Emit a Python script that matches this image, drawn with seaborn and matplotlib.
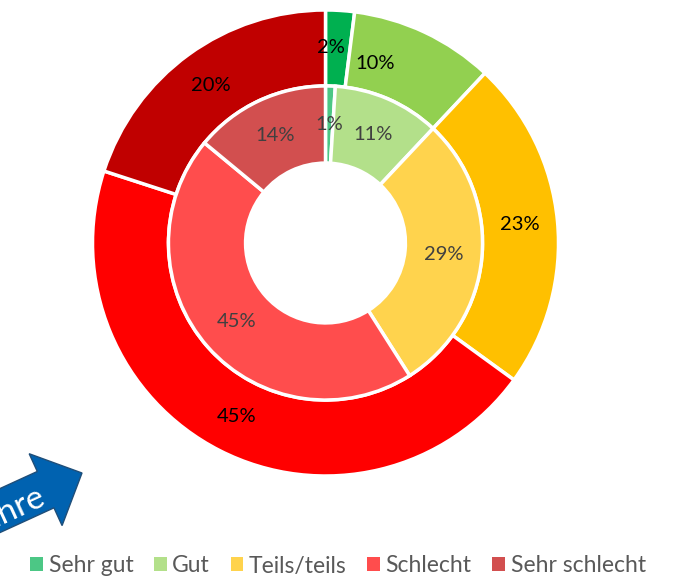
import matplotlib
matplotlib.use("Agg")
import matplotlib.pyplot as plt
import seaborn as sns
from matplotlib.patches import Patch, FancyArrow
import numpy as np

# Daten
kategorien = ["Sehr gut", "Gut", "Teils/teils", "Schlecht", "Sehr schlecht"]
aussen = [2, 10, 23, 45, 20]
innen = [1, 11, 29, 45, 14]

farben_aussen = ["#00B050", "#92D050", "#FFC000", "#FF0000", "#C00000"]
farben_innen = ["#4CC785", "#B3E08A", "#FFD34D", "#FF4D4D", "#D24F4F"]

sns.set_style("white")
plt.rcParams["font.family"] = ["Lato", "DejaVu Sans"]

fig = plt.figure(figsize=(6.74, 5.79), dpi=100)
ax = fig.add_axes([92.5 / 674, 103 / 579, 466 / 674, 466 / 579])

w1, t1, a1 = ax.pie(aussen, radius=1.0, colors=farben_aussen, startangle=90, counterclock=False,
                    wedgeprops=dict(width=0.326, edgecolor="white", linewidth=2.5),
                    autopct=lambda p: f"{p:.0f}%", pctdistance=0.837,
                    textprops=dict(color="black", fontsize=14.5))
w2, t2, a2 = ax.pie(innen, radius=0.674, colors=farben_innen, startangle=90, counterclock=False,
                    wedgeprops=dict(width=0.331, edgecolor="white", linewidth=2.5),
                    autopct=lambda p: f"{p:.0f}%", pctdistance=0.755,
                    textprops=dict(color="#404040", fontsize=14.5))
# Beschriftungen 2% und 10% etwas verschoben (wie im Original)
phi = np.deg2rad(90 - 15.5)
a1[1].set_position((0.80 * np.cos(phi), 0.80 * np.sin(phi)))
phi = np.deg2rad(90 - 1.5)
a1[0].set_position((0.84 * np.cos(phi), 0.84 * np.sin(phi)))
ax.set_xlim(-1, 1)
ax.set_ylim(-1, 1)
ax.set_aspect("equal")

# Legende
griffe = [Patch(facecolor=c, edgecolor="none") for c in farben_innen]
fig.legend(griffe, kategorien, loc="center", bbox_to_anchor=(338 / 674, 1 - 566 / 579), ncol=5,
           frameon=False, fontsize=16.5, handlelength=0.55, handleheight=0.55, handletextpad=0.25,
           columnspacing=0.9, labelcolor="#595959")

# Pfeil unten links (abgeschnitten)
ov = fig.add_axes([0, 0, 1, 1], zorder=-1)
ov.set_xlim(0, 674)
ov.set_ylim(579, 0)
ov.axis("off")
winkel = np.deg2rad(24.6)
dx, dy = np.cos(winkel), -np.sin(winkel)
spitze = (82, 473)
laenge = 170
ov.add_patch(FancyArrow(spitze[0] - dx * laenge, spitze[1] - dy * laenge, dx * laenge, dy * laenge,
                        width=40, head_width=79, head_length=40, length_includes_head=True,
                        facecolor="#0062B0", edgecolor="#1F4E79", linewidth=1))
ov.text(44, 496, "Jahre", color="white", fontsize=24, rotation=24.6, ha="right", va="center",
        rotation_mode="anchor")

fig.savefig("out.png", dpi=100)
